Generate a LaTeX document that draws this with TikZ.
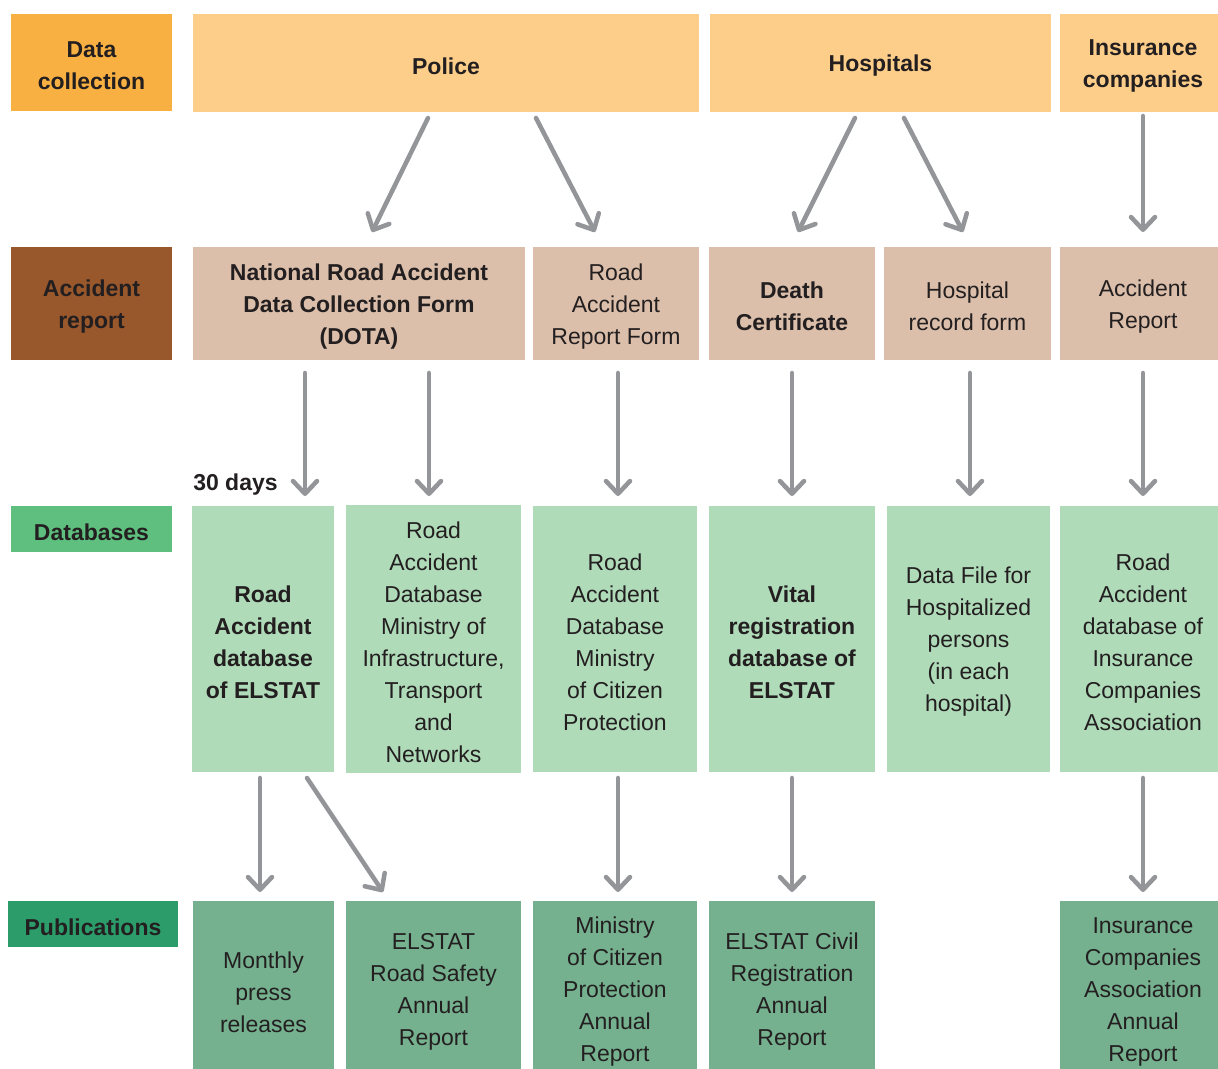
\documentclass[tikz,border=0pt]{standalone}
\usepackage{fontspec}
\setmainfont{Liberation Sans}
\usetikzlibrary{arrows.meta,calc}
\definecolor{txt}{HTML}{231F20}
\definecolor{labA}{HTML}{F9B042}
\definecolor{fillA}{HTML}{FCCE8A}
\definecolor{labB}{HTML}{99572C}
\definecolor{fillB}{HTML}{DBBFAA}
\definecolor{labC}{HTML}{5EBF7E}
\definecolor{fillC}{HTML}{AFDBB9}
\definecolor{labD}{HTML}{2C9C6A}
\definecolor{fillD}{HTML}{75B18F}
\definecolor{arrc}{HTML}{939598}
% box: name, x1, y1, x2, y2, fill colour, text style, text
\newcommand\bx[8]{%
  \node[boxshape, fill=#6, minimum width={(#4-#2)*0.75pt}, minimum height={(#5-#3)*0.75pt}] (#1) at ({(#2+#4)/2},{(#3+#5)/2}) {};%
  \node[txtbase,#7] (#1-t) at ($(#1.center)+(0,3)$) {#8};}
\tikzset{
  boxshape/.style={inner sep=0pt, outer sep=0pt, draw=none},
  txtbase/.style={inner sep=0pt, align=center, text=txt,
    font=\fontsize{17.25pt}{24pt}\selectfont},
  rm/.style={},
  bf/.style={font=\fontsize{17.25pt}{24pt}\selectfont\bfseries},
  arr/.style={draw=arrc, line width=3.4pt, line cap=round,
    -{Straight Barb[length=9.5pt,width=18pt,line cap=round,line join=round]}}
}
\begin{document}
\begin{tikzpicture}[x=0.75pt,y=-0.75pt]
\useasboundingbox (0,0) rectangle (1218,1068);
% row labels
\bx{lcol}{11}{14}{172}{111}{labA}{bf}{Data\\collection}
\bx{lrep}{11}{247}{172}{360}{labB}{bf}{Accident\\report}
\bx{ldb}{11}{506}{172}{552}{labC}{bf}{Databases}
\bx{lpub}{8}{901}{178}{947}{labD}{bf}{Publications}
% row 1
\bx{police}{193}{14}{699}{112}{fillA}{bf}{Police}
\bx{hosp}{710}{14}{1051}{112}{fillA}{bf}{Hospitals}
\bx{insur}{1060}{14}{1226}{112}{fillA}{bf}{Insurance\\companies}
% row 2
\bx{dota}{193}{247}{525}{360}{fillB}{bf}{National Road Accident\\Data Collection Form\\(DOTA)}
\bx{rarf}{533}{247}{699}{360}{fillB}{rm}{Road\\Accident\\Report Form}
\bx{death}{709}{247}{875}{360}{fillB}{bf}{Death\\Certificate}
\bx{hrec}{884}{247}{1051}{360}{fillB}{rm}{Hospital\\record form}
\bx{accrep}{1060}{247}{1226}{360}{fillB}{rm}{Accident\\Report}
% row 3
\bx{dbelstat}{192}{506}{334}{772}{fillC}{bf}{Road\\Accident\\database\\of ELSTAT}
\bx{dbinfra}{346}{505}{521}{773}{fillC}{rm}{Road\\Accident\\Database\\Ministry of\\Infrastructure,\\Transport\\and\\Networks}
\bx{dbcit}{533}{506}{697}{772}{fillC}{rm}{Road\\Accident\\Database\\Ministry\\of Citizen\\Protection}
\bx{dbvital}{709}{506}{875}{772}{fillC}{bf}{Vital\\registration\\database of\\ELSTAT}
\bx{dbhosp}{887}{506}{1050}{772}{fillC}{rm}{Data File for\\Hospitalized\\persons\\(in each\\hospital)}
\bx{dbins}{1060}{506}{1226}{772}{fillC}{rm}{Road\\Accident\\database of\\Insurance\\Companies\\Association}
% row 4
\bx{pmonth}{193}{901}{334}{1077}{fillD}{rm}{Monthly\\press\\releases}
\bx{proad}{346}{901}{521}{1077}{fillD}{rm}{ELSTAT\\Road Safety\\Annual\\Report}
\bx{pcit}{533}{901}{697}{1077}{fillD}{rm}{Ministry\\of Citizen\\Protection\\Annual\\Report}
\bx{pcivil}{709}{901}{875}{1077}{fillD}{rm}{ELSTAT Civil\\Registration\\Annual\\Report}
\bx{pins}{1060}{901}{1226}{1077}{fillD}{rm}{Insurance\\Companies\\Association\\Annual\\Report}
% 30 days
\node[txtbase,bf,anchor=west] (days) at (193,485) {30 days};
% arrows row1 -> row2
\draw[arr] ($(police.south west)+(235,6)$) -- ($(dota.north west)+(179,-15)$);
\draw[arr] ($(police.south west)+(343,6)$) -- ($(rarf.north west)+(62,-15)$);
\draw[arr] ($(hosp.south west)+(145,6)$) -- ($(death.north west)+(89,-15)$);
\draw[arr] ($(hosp.south west)+(194,6)$) -- ($(hrec.north west)+(79,-15)$);
\draw[arr] ($(insur.south)+(0,4)$) -- ($(accrep.north)+(0,-15)$);
% arrows row2 -> row3
\draw[arr] ($(305,0 |- dota.south)+(0,13)$) -- ($(305,0 |- dbelstat.north)+(0,-10)$);
\draw[arr] ($(429,0 |- dota.south)+(0,13)$) -- ($(429,0 |- dbinfra.north)+(0,-9)$);
\draw[arr] ($(618,0 |- rarf.south)+(0,13)$) -- ($(618,0 |- dbcit.north)+(0,-10)$);
\draw[arr] ($(792,0 |- death.south)+(0,13)$) -- ($(792,0 |- dbvital.north)+(0,-10)$);
\draw[arr] ($(970,0 |- hrec.south)+(0,13)$) -- ($(970,0 |- dbhosp.north)+(0,-10)$);
\draw[arr] ($(accrep.south)+(0,13)$) -- ($(dbins.north)+(0,-10)$);
% arrows row3 -> row4
\draw[arr] ($(260,0 |- dbelstat.south)+(0,6)$) -- ($(260,0 |- pmonth.north)+(0,-9)$);
\draw[arr] ($(dbelstat.south west)+(115,6)$) -- ($(proad.north west)+(37,-9)$);
\draw[arr] ($(618,0 |- dbcit.south)+(0,6)$) -- ($(618,0 |- pcit.north)+(0,-9)$);
\draw[arr] ($(792,0 |- dbvital.south)+(0,6)$) -- ($(792,0 |- pcivil.north)+(0,-9)$);
\draw[arr] ($(dbins.south)+(0,6)$) -- ($(pins.north)+(0,-9)$);
\end{tikzpicture}
\end{document}
